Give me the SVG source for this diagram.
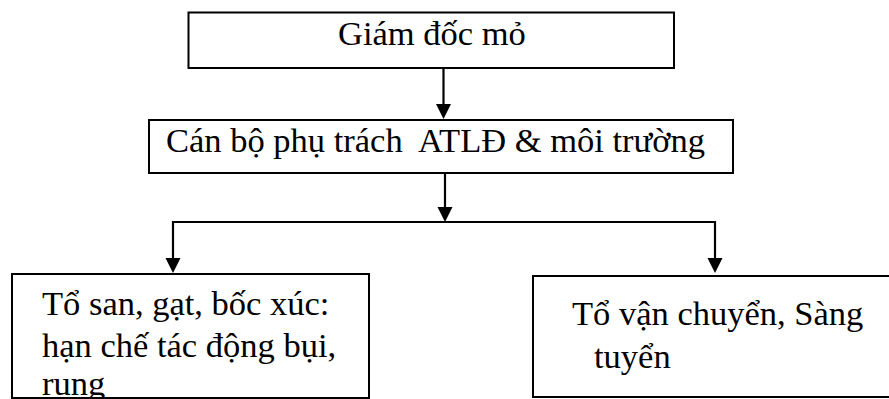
<svg xmlns="http://www.w3.org/2000/svg" width="889" height="399" viewBox="0 0 889 399">
<style>
.box{fill:#fff;stroke:#000;stroke-width:2}
.t{font-family:"Liberation Serif","Times New Roman",serif;font-size:34.5px;fill:#000}
.ln{fill:none;stroke:#000;stroke-width:2.2}
.ah{fill:#000}
</style>
<rect width="889" height="399" fill="#fff"/>
<g id="connectors">
<line class="ln" x1="443.5" y1="68" x2="443.5" y2="106"/>
<polygon class="ah" points="436,104 451,104 443.5,119"/>
<line class="ln" x1="445" y1="173" x2="445" y2="210"/>
<polygon class="ah" points="437.5,207 452.5,207 445,222"/>
<polyline class="ln" points="173,260 173,222 715,222 715,260"/>
<polygon class="ah" points="165.5,258 180.5,258 173,273"/>
<polygon class="ah" points="707.5,258 722.5,258 715,273"/>
</g>
<g id="n1">
<rect class="box" x="188.5" y="12.5" width="485.5" height="55.5"/>
<text class="t" x="338" y="45">Giám đốc mỏ</text>
</g>
<g id="n2">
<rect class="box" x="149" y="120" width="584" height="53"/>
<text class="t" x="166" y="152" xml:space="preserve">Cán bộ phụ trách  ATLĐ &amp; môi trường</text>
</g>
<g id="n3">
<rect class="box" x="12" y="274" width="357" height="124"/>
<text class="t" x="42" y="315">Tổ san, gạt, bốc xúc:</text>
<text class="t" x="42" y="357">hạn chế tác động bụi,</text>
<text class="t" x="42" y="395">rung</text>
</g>
<g id="n4">
<rect class="box" x="533" y="276" width="360" height="121"/>
<text class="t" x="572" y="325">Tổ vận chuyển, Sàng</text>
<text class="t" x="594" y="368">tuyển</text>
</g>
</svg>
